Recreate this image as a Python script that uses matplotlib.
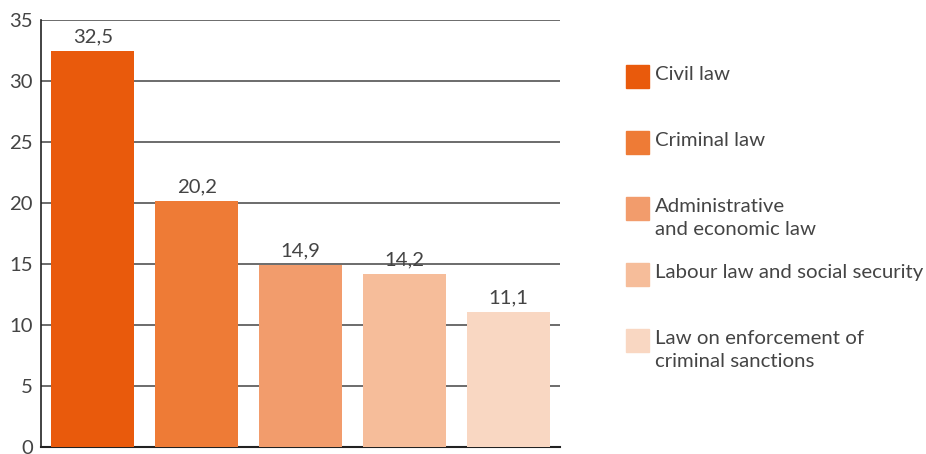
import matplotlib.pyplot as plt
from matplotlib.patches import Rectangle

# share of cases by area of law
categories = ['Civil law', 'Criminal law', 'Administrative\nand economic law',
              'Labour law and social security',
              'Law on enforcement of\ncriminal sanctions']
values = [32.5, 20.2, 14.9, 14.2, 11.1]
colors = ['#E95A0C', '#EE7B36', '#F29C6C', '#F6BD9A', '#F9D7C2']
yticks = [0, 5, 10, 15, 20, 25, 30, 35]

plt.rcParams['font.family'] = ['Lato', 'DejaVu Sans']
txt = '#444444'

fig = plt.figure(figsize=(9.26, 4.54), dpi=100)
W, H = 926, 454
# axes box in pixels: left 41, right 560, y=0 at 447, y=35 at 20
ax = fig.add_axes([41 / W, (H - 447) / H, (560 - 41) / W, (447 - 20) / H])

x = range(len(values))
ax.bar(x, values, width=0.8, color=colors, zorder=3)
for i, v in zip(x, values):
    ax.text(i, v + 0.45, f'{v:.1f}'.replace('.', ','), ha='center', va='bottom',
            fontsize=14.6, color=txt)

ax.set_xlim(-0.5, 4.5)
ax.set_ylim(0, 35)
ax.set_yticks(yticks)
ax.set_yticklabels([str(t) for t in yticks], fontsize=14.6, color=txt)
ax.set_xticks([])
ax.grid(axis='y', color='#444444', lw=1.1, zorder=1)
ax.tick_params(axis='y', length=0, pad=6)
for s in ['top', 'right']:
    ax.spines[s].set_visible(False)
ax.spines['left'].set_color('#222222')
ax.spines['bottom'].set_color('#222222')
ax.spines['left'].set_linewidth(1.2)
ax.spines['bottom'].set_linewidth(1.5)

# legend drawn by hand: square + label, 66 px apart
for k, (lab, c) in enumerate(zip(categories, colors)):
    top = 65 + 66 * k
    fig.add_artist(Rectangle((626 / W, (H - top - 23) / H), 23 / W, 23 / H,
                             transform=fig.transFigure, color=c))
    fig.text(655 / W, (H - top - 1) / H, lab, ha='left', va='top',
             fontsize=14.7, color=txt, linespacing=1.45)

fig.savefig('out.png', dpi=100)
